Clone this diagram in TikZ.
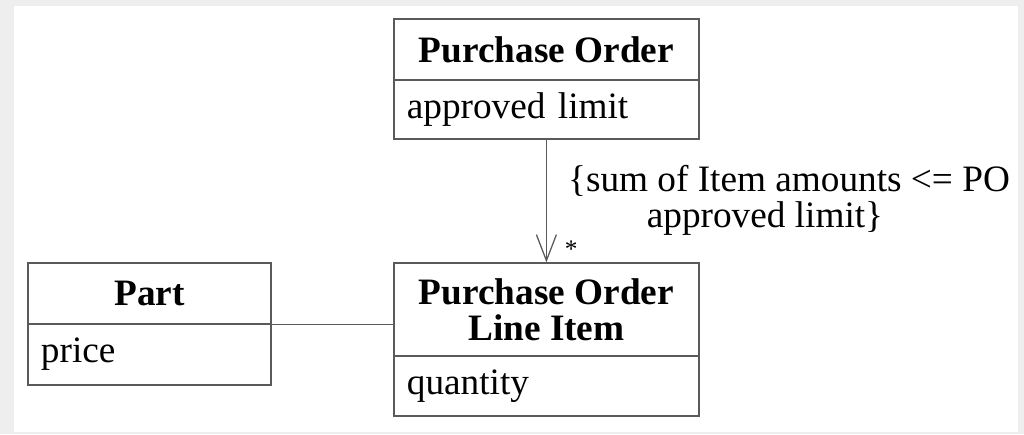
\documentclass[tikz,border=0pt]{standalone}
\usepackage{fontspec}
\setmainfont{Liberation Serif}
\usetikzlibrary{arrows.meta}
\definecolor{framegray}{HTML}{EEEEEE}
\definecolor{linegray}{HTML}{5A5A5A}
\tikzstyle{class head}=[draw=linegray, line width=0.9pt, shape=rectangle, minimum width=7.625cm, minimum height=1.525cm, align=center, font=\fontsize{26.5}{25.6}\selectfont\bfseries]
\tikzstyle{class attr}=[draw=linegray, line width=0.9pt, shape=rectangle, inner xsep=0.325cm, text width=6.975cm, minimum height=1.475cm, align=left]
\tikzstyle{assoc edge}=[-, draw=linegray, line width=0.9pt]
\tikzstyle{dep edge}=[-{Straight Barb[length=0.65cm, width=0.5cm]}, draw=linegray, line width=0.9pt]
\pgfdeclarelayer{bglayer}
\pgfdeclarelayer{nodelayer}
\pgfdeclarelayer{edgelayer}
\pgfsetlayers{bglayer,nodelayer,edgelayer,main}

\begin{document}
\begin{tikzpicture}[every node/.style={font=\fontsize{26.5}{25.6}\selectfont}]
	\begin{pgfonlayer}{bglayer}
		\fill [framegray] (0, 0) rectangle (25.6, -10.85);
		\fill [white] (0.35, -0.15) rectangle (25.45, -10.8);
	\end{pgfonlayer}
	\begin{pgfonlayer}{nodelayer}
		\node [style=class head] (pohead) at (13.66, -1.2375) {Purchase Order};
		\node [style=class attr] (poattr) at (13.66, -2.7375) {approved limit};
		\node [style=class head, minimum width=6.075cm] (parthead) at (3.7375, -7.3375) {Part};
		\node [style=class attr, text width=5.425cm, minimum height=1.525cm] (partattr) at (3.7375, -8.8625) {price};
		\node [style=class head, minimum height=2.325cm] (lihead) at (13.66, -7.7375) {Purchase Order\\Line Item};
		\node [style=class attr, minimum height=1.5cm] (liattr) at (13.66, -9.65) {quantity};
		\node [font=\fontsize{18}{18}\selectfont] (mult) at (14.28, -6.22) {*};
		\node [align=center] (constraint) at (19.725, -5.0) {\{sum of Item amounts <= PO\\approved limit\}\hspace*{1.2cm}};
	\end{pgfonlayer}
	\begin{pgfonlayer}{edgelayer}
		\draw [style=dep edge] (poattr) to (lihead);
		\draw [style=assoc edge] (parthead.south east) to (parthead.south east -| lihead.west);
	\end{pgfonlayer}
\end{tikzpicture}
\end{document}
